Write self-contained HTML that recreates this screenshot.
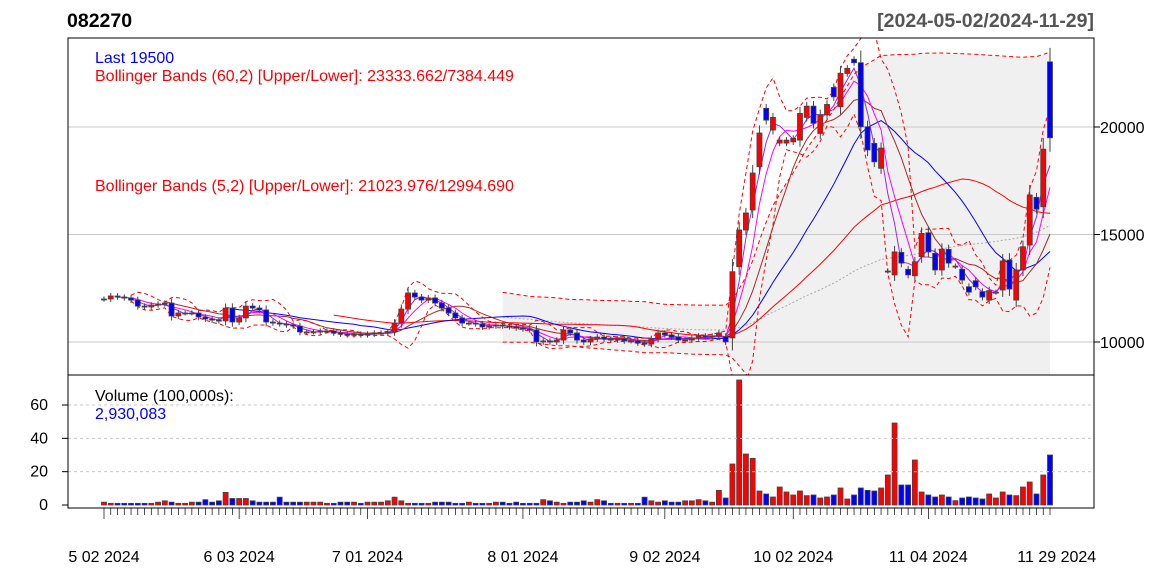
<!DOCTYPE html>
<html><head><meta charset="utf-8"><style>
body{margin:0;background:#fff;}
svg{display:block;font-family:"Liberation Sans",Arial,sans-serif;}
</style></head><body>
<svg id="chart" width="1152" height="576" viewBox="0 0 1152 576">
<defs><clipPath id="mainclip"><rect x="68" y="38" width="1026" height="337"/></clipPath>
<clipPath id="volclip"><rect x="68" y="375" width="1026" height="133"/></clipPath></defs>
<text x="67" y="27" font-size="19.5" font-weight="bold">082270</text>
<text x="1094" y="27" font-size="19.5" font-weight="bold" fill="#555" text-anchor="end">[2024-05-02/2024-11-29]</text>
<g id="mainG" clip-path="url(#mainclip)"></g>
<g id="volG" clip-path="url(#volclip)"></g>
<g id="axG"></g>
<rect x="68" y="38" width="1026" height="337" fill="none" stroke="#000"/>
<rect x="68" y="375" width="1026" height="133" fill="none" stroke="#000"/>
<text x="95" y="63" font-size="16" fill="#0000ff">Last 19500</text>
<text x="95" y="81" font-size="16" fill="#ff0000">Bollinger Bands (60,2) [Upper/Lower]: 23333.662/7384.449</text>
<text x="95" y="191" font-size="16" fill="#ff0000">Bollinger Bands (5,2) [Upper/Lower]: 21023.976/12994.690</text>
<text x="95" y="401" font-size="16" fill="#000">Volume (100,000s):</text>
<text x="95" y="419" font-size="16" fill="#0000ff">2,930,083</text>
</svg>
<script>
const closes=[12000,12140,12090,12050,11950,11670,11630,11720,11770,11810,11210,11350,11350,11350,11160,11070,11020,10980,11580,10930,11120,11670,11580,11490,10930,10880,10840,10790,10740,10470,10470,10470,10510,10510,10420,10370,10330,10370,10330,10370,10420,10420,10470,10880,11530,12280,12090,11950,12050,
11810,11580,11350,11120,10880,10880,10840,10700,10740,10790,10740,10700,10650,10600,10560,10000,10050,10000,10090,10560,10420,10090,10000,10140,10230,10140,10090,10140,10050,10050,9950,9910,10140,10420,10330,10230,10090,10090,10190,10280,10230,10280,10420,
10010,13270,15210,16000,17860,19720,20320,20450,19390,19390,19470,20630,20970,20170,20560,21050,21400,22490,22730,22990,20010,18930,18380,19020,13300,14190,13670,13120,13730,15050,14190,13350,14320,13670,13530,12880,12320,12570,12090,12390,12320,13770,12460,13350,14430,16840,16180,18970,19500];
const gapOpens=[10250,10190,13500,15210,16140,18150,20870,19860,19250,19250,19310,19390,20450,20970,19700,20560,21840,20940,22490,23150,22990,20010,19240,18080,13300,13120,14170,13380,13080,13970,15080,14120,13350,14310,13530,13380,12570,12850,12340,11950,12320,12420,13810,11950,13350,14510,16730,16290,23030];
const volumes=[1.7,1.0,1.0,1.0,1.0,1.0,1.0,1.0,1.7,2.5,1.7,1.0,1.0,1.7,1.7,3.2,1.7,2.5,7.6,3.9,3.9,3.9,2.5,1.7,1.7,1.7,4.7,1.7,1.7,1.7,1.7,1.7,1.7,1.0,1.0,1.7,1.7,1.7,1.0,1.7,1.7,1.7,2.5,4.7,2.5,1.0,1.0,1.0,1.0,1.7,1.7,1.7,1.0,1.0,1.7,1.0,1.0,1.0,1.7,1.7,1.0,1.7,1.0,1.0,1.0,3.2,2.5,1.7,1.0,1.7,1.7,2.5,1.7,3.2,2.5,1.0,1.0,1.0,1.0,1.0,4.7,2.5,1.7,2.5,1.7,1.7,2.5,2.5,3.2,2.5,1.7,8.8,
4.2,24.6,75,30.6,28,8.4,6.6,4.8,10.8,7.8,6,8.4,5.6,6,4.2,4.8,6,10.2,3.6,6,10.2,8.8,8.4,10.2,18,49.2,12,12,27,7.8,6,4.8,6,4.8,2.6,4.2,4.8,4.2,3.6,6.6,4.2,7.8,6,5.6,10.8,13.8,6.6,18,30];
const priceTicks=[10000,15000,20000];
const volTicks=[0,20,40,60];
const dateLabels=["5 02 2024","6 03 2024","7 01 2024","8 01 2024","9 02 2024","10 02 2024","11 04 2024","11 29 2024"];
const dateIdx=[0,20,39,62,83,102,122,141];

const NS="http://www.w3.org/2000/svg";
const n=closes.length;
const xs=i=>104+i*(1050-104)/(n-1);
const yp=p=>342-(p-10000)*107.5/5000;
const yv=v=>505-v*(505-405)/60;
const vOff=n-volumes.length;
const opens=closes.map((c,i)=>{const g=i-(n-gapOpens.length);return g>=0?gapOpens[g]:(i>0?closes[i-1]:c);});
const mainG=document.getElementById('mainG'),volG=document.getElementById('volG'),axG=document.getElementById('axG');
function mk(tag,at,parent){const e=document.createElementNS(NS,tag);for(const k in at)e.setAttribute(k,at[k]);parent.appendChild(e);return e;}
function sma(k,i){if(i<k-1)return null;let s=0;for(let j=i-k+1;j<=i;j++)s+=closes[j];return s/k;}
function sd(k,i){const m=sma(k,i);if(m===null)return null;let s=0;for(let j=i-k+1;j<=i;j++)s+=(closes[j]-m)**2;return Math.sqrt(s/k);}
function pathOf(f){let d="";for(let i=0;i<n;i++){const v=f(i);if(v===null)continue;d+=(d?"L":"M")+xs(i).toFixed(1)+","+yp(v).toFixed(1);}return d;}

let up="",lo=[];
for(let i=59;i<n;i++){const m=sma(60,i),s=sd(60,i);up+=(up?"L":"M")+xs(i)+","+yp(m+2*s);lo.push("L"+xs(i)+","+yp(m-2*s));}
const shade=mk('path',{d:up+lo.reverse().join("")+"Z",fill:'#f0f0f0'},mainG);


priceTicks.forEach(p=>{const l=mk('line',{x1:68,x2:1094,y1:yp(p),y2:yp(p),stroke:'#c8c8c8'},mainG);

});
const gd=mk('path',{d:pathOf(i=>sma(60,i)),fill:'none',stroke:'#aaa','stroke-dasharray':'2,2'},mainG);


const lines=[[35,'#ff0000','sma35-line'],[20,'#0000ff','sma20-line'],[10,'#a52a2a','sma10-line'],[5,'#ff00ff','sma5-line']];
lines.forEach(([k,c,nm])=>{const e=mk('path',{d:pathOf(i=>sma(k,i)),fill:'none',stroke:c,'stroke-width':1},mainG);

});
const ma3=mk('path',{d:pathOf(i=>sma(3,i)),fill:'none',stroke:'#a020f0'},mainG);


[[60,1],[60,-1],[5,1],[5,-1]].forEach(([k,sg])=>{const e=mk('path',{d:pathOf(i=>{const m=sma(k,i);return m===null?null:m+sg*2*sd(k,i);}),fill:'none',stroke:'#ff0000','stroke-dasharray':'4,3'},mainG);

});
for(let i=0;i<n;i++){
 const o=opens[i],c=closes[i],x=xs(i),col=c>=o?'#ff0000':'#0000ff';
 const hi=Math.max(o,c)+Math.abs(c-o)*0.15+120,lw=Math.min(o,c)-Math.abs(c-o)*0.15-120;
 const w=mk('line',{x1:x,x2:x,y1:yp(hi),y2:yp(lw),stroke:'#444'},mainG);
 
 
 const t=yp(Math.max(o,c)),b=yp(Math.min(o,c));
 const r=mk('rect',{x:x-2.5,y:t,width:5,height:Math.max(b-t,1),fill:col,stroke:'#444','stroke-width':0.8},mainG);
 
 
 const v=(i-vOff>=0?volumes[i-vOff]:0)||0;
 const vb=mk('rect',{x:x-2.5,y:yv(v),width:5,height:505-yv(v),fill:col,stroke:'#444','stroke-width':0.8},volG);
 
 
}
volTicks.forEach(v=>{
 if(v>0){const g=mk('line',{x1:68,x2:1094,y1:yv(v),y2:yv(v),stroke:'#c8c8c8','stroke-dasharray':'3,3'},volG);
 
 }
 mk('line',{x1:62,x2:68,y1:yv(v),y2:yv(v),stroke:'#000'},axG);
 const t=mk('text',{x:48,y:yv(v)+5,'font-size':16,'text-anchor':'end'},axG);t.textContent=v;
 
 
});
priceTicks.forEach(p=>{
 mk('line',{x1:1094,x2:1100,y1:yp(p),y2:yp(p),stroke:'#000'},axG);
 const t=mk('text',{x:1100,y:yp(p)+6,'font-size':16},axG);t.textContent=p;
 
 
});
mk('line',{x1:xs(0),x2:xs(n-1),y1:508,y2:508,stroke:'#000'},axG);
for(let i=0;i<n;i++){mk('line',{x1:xs(i),x2:xs(i),y1:508,y2:dateIdx.includes(i)?519:515,stroke:'#000','stroke-width':0.7},axG);}
dateLabels.forEach((s,k)=>{const t=mk('text',{x:xs(dateIdx[k]),y:562,'font-size':16,'text-anchor':'middle'},axG);t.textContent=s;
 
 });
</script>
</body></html>
